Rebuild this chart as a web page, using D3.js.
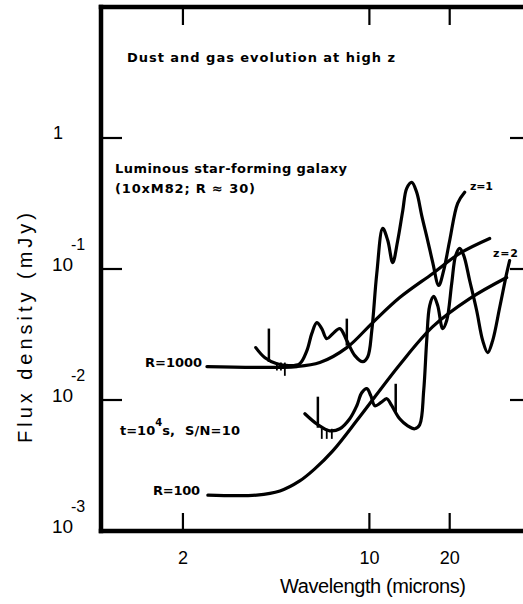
<!DOCTYPE html>
<meta charset="utf-8">
<html>
<script src="https://cdnjs.cloudflare.com/ajax/libs/d3/7.8.5/d3.min.js"></script>
<style>
body { margin: 0; background: #fff; }
svg text { font-family: "Liberation Sans", Arial, Helvetica, sans-serif; fill: #000; }
svg .lbl { font-family: "DejaVu Sans", Verdana, sans-serif; font-weight: bold; }
svg path.curve { fill: none; stroke: #000; stroke-width: 3.2; stroke-linejoin: round; stroke-linecap: round; }
svg line.mark { stroke: #000; stroke-width: 2.5; }
</style>
<body>
<svg id="chart" width="523" height="604"></svg>

<script type="text/javascript">

// ---- data (wavelength in microns, flux density in mJy) ----

var wavelengthTicks = [2, 10, 20];
var fluxTicks = [1e-3, 1e-2, 1e-1, 1];
var fluxTickLabels = [["10", "-3"], ["10", "-2"], ["10", "-1"], ["1", ""]];

// sensitivity curves
var sensR1000 = [[2.46, 0.0180], [5.35, 0.0180], [6.52, 0.0193], [8.23, 0.0251], [10.29, 0.0390],
                 [12.99, 0.0605], [17.28, 0.0925], [21.80, 0.1315], [28.24, 0.171]];
var sensR100 = [[2.48, 0.00188], [3.78, 0.00188], [4.62, 0.00202], [5.48, 0.00241], [6.24, 0.00298],
                [7.29, 0.00409], [9.20, 0.00745], [12.99, 0.0186], [17.28, 0.0363], [23.76, 0.0594], [32.70, 0.0861]];

// galaxy spectra
var specZ1 = [[3.75, 0.0251], [4.06, 0.0210], [4.50, 0.0189], [5.03, 0.0183], [5.48, 0.0189], [5.83, 0.0238],
              [6.08, 0.0321], [6.35, 0.0390], [6.63, 0.0351], [6.92, 0.0294], [7.29, 0.0321], [7.75, 0.0351],
              [8.23, 0.0284], [8.82, 0.0218], [9.45, 0.0196], [9.86, 0.0214], [10.21, 0.0339], [10.66, 0.0925],
              [11.22, 0.204], [11.72, 0.165], [12.23, 0.112], [12.77, 0.165], [13.34, 0.280], [13.80, 0.413],
              [14.42, 0.459], [15.04, 0.385], [15.71, 0.256], [16.54, 0.165], [17.28, 0.112], [18.19, 0.0748],
              [18.99, 0.0975], [20.0, 0.165], [21.42, 0.317], [22.76, 0.385]];
var specZ2 = [[5.73, 0.00785], [6.41, 0.00647], [7.10, 0.00582], [7.75, 0.00603], [8.44, 0.00719], [8.97, 0.00904],
              [9.36, 0.01135], [9.78, 0.0122], [10.12, 0.0108], [10.48, 0.00904], [11.03, 0.00953], [11.62, 0.01023],
              [12.13, 0.00904], [12.99, 0.00719], [13.92, 0.00635], [14.79, 0.00603], [15.44, 0.00647], [15.98, 0.01178],
              [16.40, 0.0284], [16.83, 0.0526], [17.42, 0.0617], [18.03, 0.0526], [18.83, 0.0351], [19.49, 0.0404],
              [20.35, 0.0774], [21.06, 0.127], [21.80, 0.1436], [22.57, 0.127], [23.76, 0.0817], [25.24, 0.0482],
              [26.60, 0.0284], [27.77, 0.0230], [28.98, 0.0284], [30.79, 0.0508], [32.70, 0.0925], [33.55, 0.116]];

// spectral range markers: [wavelength, flux top, flux bottom]
var marksZ1 = [[4.20, 0.0351, 0.0195], [8.23, 0.0418, 0.0260]];
var hatchZ1 = [[4.50, 0.0193, 0.0168], [4.66, 0.0193, 0.0168], [4.82, 0.0193, 0.0153]];
var marksZ2 = [[6.41, 0.0106, 0.00614], [12.55, 0.0133, 0.0080]];
var hatchZ2 = [[6.63, 0.00603, 0.00505], [6.92, 0.00603, 0.00505], [7.23, 0.00603, 0.00505]];

// ---- drawing ----

var svg = d3.select('#chart');

var x = d3.scaleLog().domain([0.986, 40]).range([101, 530]);
var y = d3.scaleLog().domain([1e-3, 10]).range([531, 7]);

var xl = x.range()[0], xr = x.range()[1];
var yb = y.range()[0], yt = y.range()[1];

function seg(w, x1, y1, x2, y2) {
	return svg.append('line')
		.attr('stroke', '#000').attr('stroke-width', w)
		.attr('x1', x1).attr('y1', y1).attr('x2', x2).attr('y2', y2);
}

// frame (solid bars so the heavy border stays crisp)
var fw = 4.5;
var frame = svg.append('g').attr('fill', '#000');
frame.append('rect').attr('x', xl - fw / 2).attr('y', yt - fw / 2).attr('width', fw).attr('height', yb - yt + fw);
frame.append('rect').attr('x', xr - fw / 2).attr('y', yt - fw / 2).attr('width', fw).attr('height', yb - yt + fw);
frame.append('rect').attr('x', xl - fw / 2).attr('y', yt - fw / 2).attr('width', xr - xl + fw).attr('height', fw);
frame.append('rect').attr('x', xl - fw / 2).attr('y', yb - fw / 2).attr('width', xr - xl + fw).attr('height', fw);

// ticks
wavelengthTicks.forEach(function(t) {
	seg(2.2, x(t), yb, x(t), yb - 18);
	seg(2.2, x(t), yt, x(t), yt + 18);
});
fluxTicks.forEach(function(t) {
	if (t <= 1e-3) return;
	seg(2.2, xl, y(t), xl + 21, y(t));
	seg(2.2, xr, y(t), xr - 20, y(t));
});

// tick labels
svg.append('g').selectAll('text')
	.data(wavelengthTicks)
	.enter().append('text')
	.attr('x', function(d) { return x(d); })
	.attr('y', 564)
	.attr('text-anchor', 'middle')
	.style('font-size', '18px')
	.text(function(d) { return d; });

fluxTicks.forEach(function(t, i) {
	var lab = fluxTickLabels[i];
	if (lab[1] === '') {
		svg.append('text').attr('x', 58).attr('y', y(t) + 1).attr('text-anchor', 'middle')
			.style('font-size', '18px').text(lab[0]);
	} else {
		svg.append('text').attr('x', 52).attr('y', y(t) + 2).style('font-size', '19px').text(lab[0]);
		svg.append('text').attr('x', 71).attr('y', y(t) - 19).style('font-size', '16px').text(lab[1]);
	}
});

// axis titles
svg.append('text')
	.attr('x', 373).attr('y', 593)
	.attr('text-anchor', 'middle')
	.attr('textLength', 186).attr('lengthAdjust', 'spacing')
	.style('font-size', '20px')
	.text('Wavelength (microns)');

svg.append('text')
	.attr('transform', 'translate(32,328) rotate(-90)')
	.attr('text-anchor', 'middle')
	.attr('textLength', 230).attr('lengthAdjust', 'spacing')
	.style('font-size', '20px')
	.text('Flux density (mJy)');

// curves
var lineGen = d3.line()
	.x(function(d) { return x(d[0]); })
	.y(function(d) { return y(d[1]); })
	.curve(d3.curveCatmullRom.alpha(0.5));

[sensR1000, sensR100, specZ1, specZ2].forEach(function(s) {
	svg.append('path').attr('class', 'curve').attr('d', lineGen(s));
});

// markers
[marksZ1, hatchZ1, marksZ2, hatchZ2].forEach(function(m, k) {
	svg.append('g').selectAll('line')
		.data(m)
		.enter().append('line')
		.attr('class', 'mark')
		.style('stroke-width', k % 2 ? 1.8 : 2.5)
		.attr('x1', function(d) { return x(d[0]); })
		.attr('x2', function(d) { return x(d[0]); })
		.attr('y1', function(d) { return y(d[1]); })
		.attr('y2', function(d) { return y(d[2]); });
});

// annotations
function label(tx, ty, size, len, str) {
	return svg.append('text').attr('class', 'lbl')
		.attr('x', tx).attr('y', ty)
		.attr('textLength', len).attr('lengthAdjust', 'spacing')
		.style('font-size', size + 'px')
		.text(str);
}

label(127, 62, 13, 268, 'Dust and gas evolution at high z');
label(115, 173, 13, 232, 'Luminous star-forming galaxy');
label(115, 193, 13, 140, '(10xM82; R \u2248 30)');
label(470, 190, 11, 23, 'z=1');
label(493, 257, 11, 25, 'z=2');
label(145, 367, 13, 57, 'R=1000');
label(153, 495, 13, 47, 'R=100');

var tn = svg.append('text').attr('class', 'lbl').attr('x', 120).attr('y', 435).style('font-size', '13px');
tn.append('tspan').text('t=10');
tn.append('tspan').attr('dy', -9).style('font-size', '10px').text('4');
tn.append('tspan').attr('dy', 9).text('s,');
tn.append('tspan').attr('x', 185).text('S/N=10').attr('textLength', 55).attr('lengthAdjust', 'spacing');

</script>
</body>
</html>
